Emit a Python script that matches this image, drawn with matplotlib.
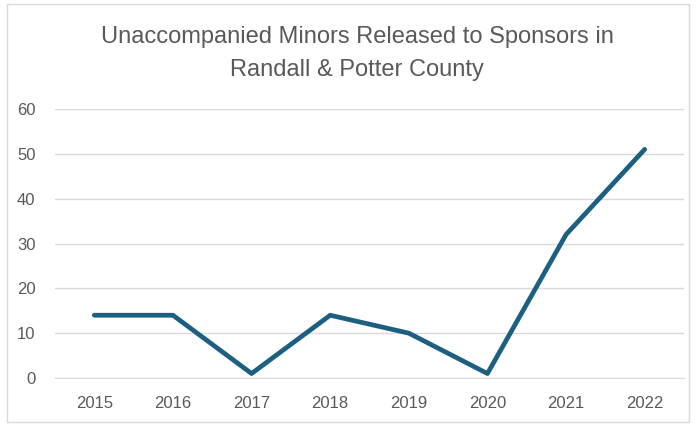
import matplotlib
matplotlib.use("Agg")
import matplotlib.pyplot as plt
from matplotlib.patches import Rectangle

years = ["2015", "2016", "2017", "2018", "2019", "2020", "2021", "2022"]
minors = [14, 14, 1, 14, 10, 1, 32, 51]
yticks = [0, 10, 20, 30, 40, 50, 60]

plt.rcParams['font.family'] = ['Liberation Sans', 'DejaVu Sans']

fig = plt.figure(figsize=(6.96, 4.24), dpi=100)
ax = fig.add_axes([55/696, 46/424, 629/696, 269/424])

x = range(len(years))
ax.plot(x, minors, color='#1d5f80', lw=3.4, solid_capstyle='round', solid_joinstyle='round')

ax.set_xlim(-0.5, len(years) - 0.5)
ax.set_ylim(0, 60)
ax.set_yticks(yticks)
ax.set_xticks(list(x))
ax.set_xticklabels(years)
ax.grid(axis='y', color='#d9d9d9', lw=1)
ax.set_axisbelow(True)
for s in ['top', 'right', 'left']:
    ax.spines[s].set_visible(False)
ax.spines['bottom'].set_color('#d9d9d9')
ax.tick_params(length=0, labelsize=12, labelcolor='#595959')
ax.tick_params(axis='x', pad=13)
ax.tick_params(axis='y', pad=14)

# title sits a little right of the figure centre, like the original
fig.text(357/696, 1 - 37/424, "Unaccompanied Minors Released to Sponsors in",
         ha='center', va='center', fontsize=17, color='#595959')
fig.text(357/696, 1 - 70/424, "Randall & Potter County",
         ha='center', va='center', fontsize=17, color='#595959')

fig.patches.append(Rectangle((7/696, 2/424), 682/696, 418/424, transform=fig.transFigure,
                             fill=False, edgecolor='#d9d9d9', lw=1))

fig.savefig('out.png', dpi=100)
